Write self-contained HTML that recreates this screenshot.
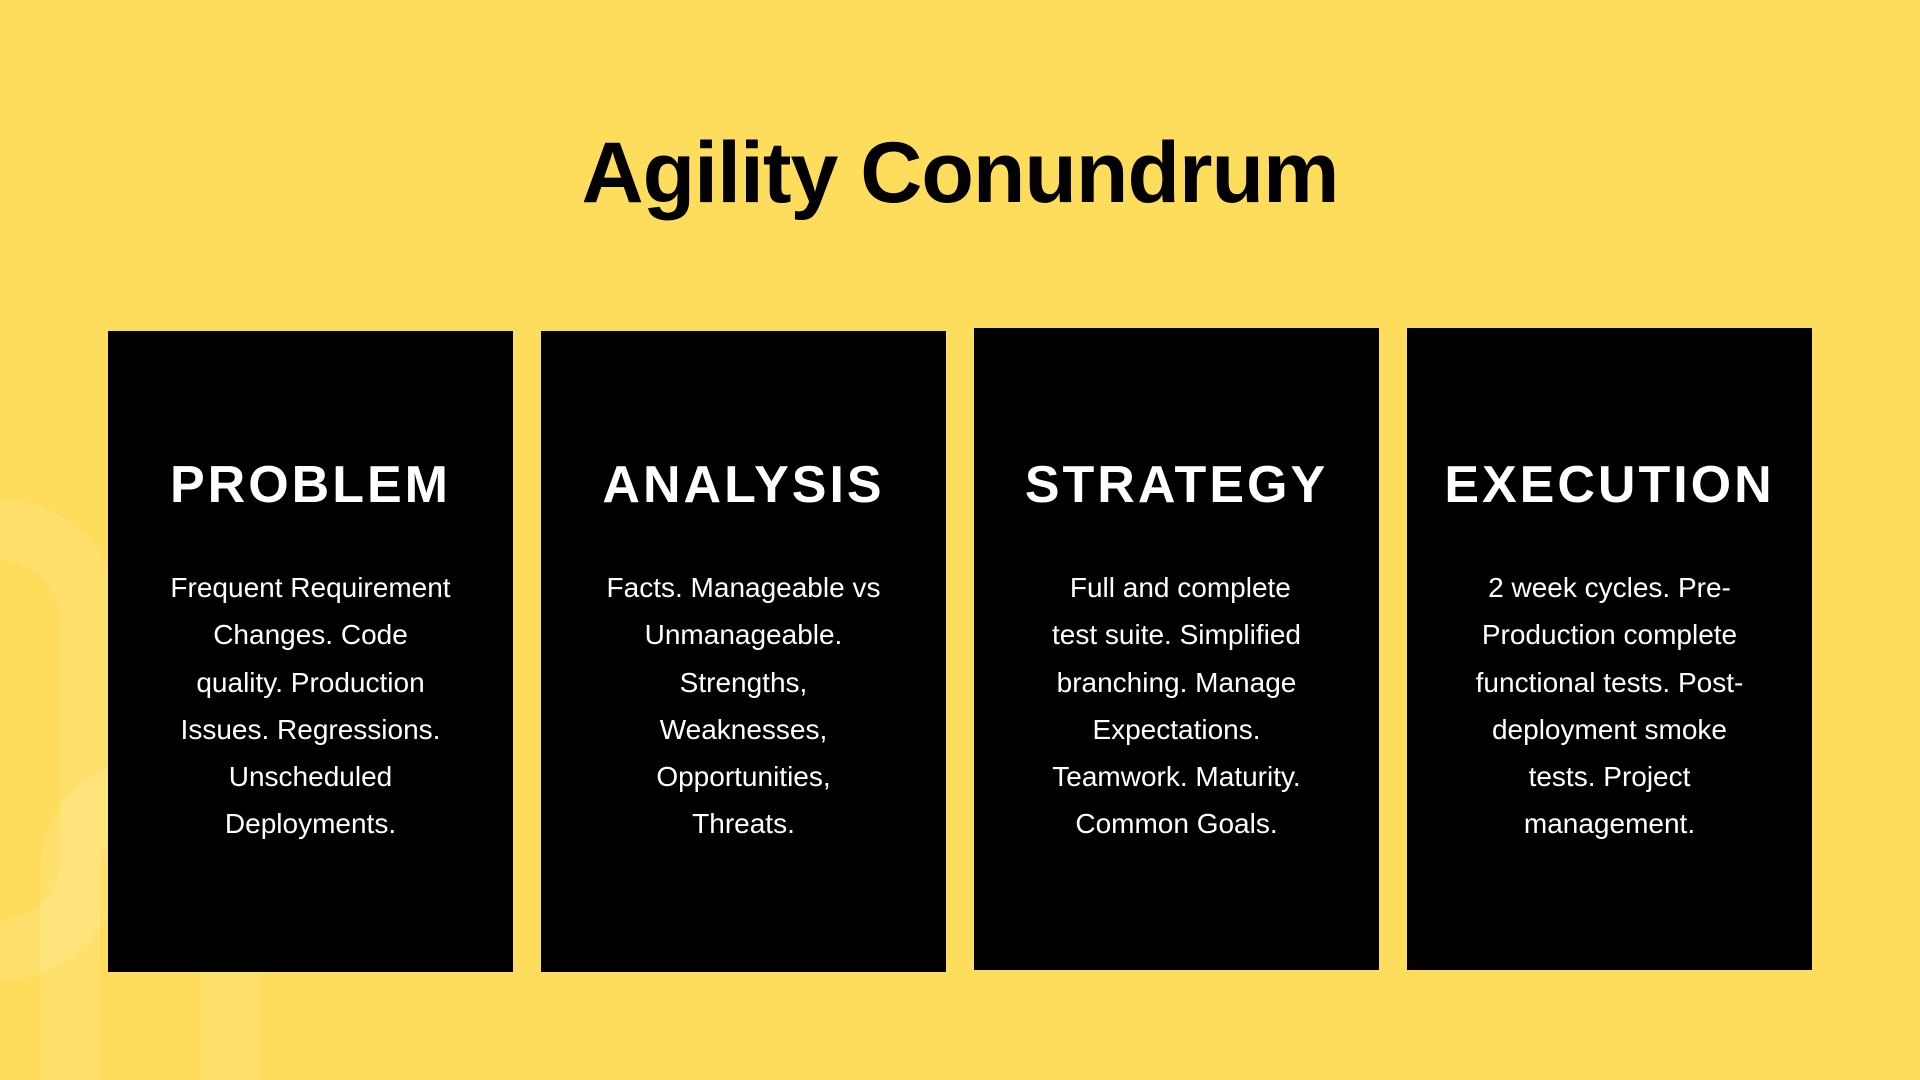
<!DOCTYPE html>
<html><head><meta charset="utf-8"><style>
html,body{margin:0;padding:0;overflow:hidden}
body{width:1920px;height:1080px;background:#FFDD5C;font-family:"Liberation Sans",sans-serif}
#wrap{position:relative;width:1920px;height:1080px;overflow:hidden}
.title{position:absolute;left:0;width:1920px;top:124px;text-align:center;font-size:86px;font-weight:bold;color:#000;letter-spacing:-1px}
.card{position:absolute;background:#000;color:#fff;text-align:center}
.card h2{margin:0;position:absolute;left:0;right:0;font-size:52px;font-weight:bold;letter-spacing:3px;line-height:1}
.card p{margin:0;position:absolute;left:10px;right:10px;font-size:28px;line-height:47.3px;white-space:nowrap}
.deco{position:absolute;border-radius:50%;border:60px solid rgba(255,255,255,0.1);box-sizing:border-box}
</style></head><body>
<div id="wrap">
<div class="deco" style="left:0;top:500px;width:120px;height:480px;border-radius:0 240px 240px 0;border-left:none"></div>
<div class="deco" style="left:40px;top:760px;width:220px;height:320px;border-radius:110px 110px 0 0;border-bottom:none"></div>
<div class="title">Agility Conundrum</div>

<div class="card" style="left:108px;top:331px;width:405px;height:641px">
<h2 style="top:128px">PROBLEM</h2>
<p style="top:233px">Frequent Requirement<br>Changes. Code<br>quality. Production<br>Issues. Regressions.<br>Unscheduled<br>Deployments.</p>
</div>
<div class="card" style="left:541px;top:331px;width:405px;height:641px">
<h2 style="top:128px">ANALYSIS</h2>
<p style="top:233px">Facts. Manageable vs<br>Unmanageable.<br>Strengths,<br>Weaknesses,<br>Opportunities,<br>Threats.</p>
</div>
<div class="card" style="left:974px;top:328px;width:405px;height:642px">
<h2 style="top:131px">STRATEGY</h2>
<p style="top:236px">&nbsp;Full and complete<br>test suite. Simplified<br>branching. Manage<br>Expectations.<br>Teamwork. Maturity.<br>Common Goals.</p>
</div>
<div class="card" style="left:1407px;top:328px;width:405px;height:642px">
<h2 style="top:131px">EXECUTION</h2>
<p style="top:236px">2 week cycles. Pre-<br>Production complete<br>functional tests. Post-<br>deployment smoke<br>tests. Project<br>management.</p>
</div>
</div>
</body></html>
